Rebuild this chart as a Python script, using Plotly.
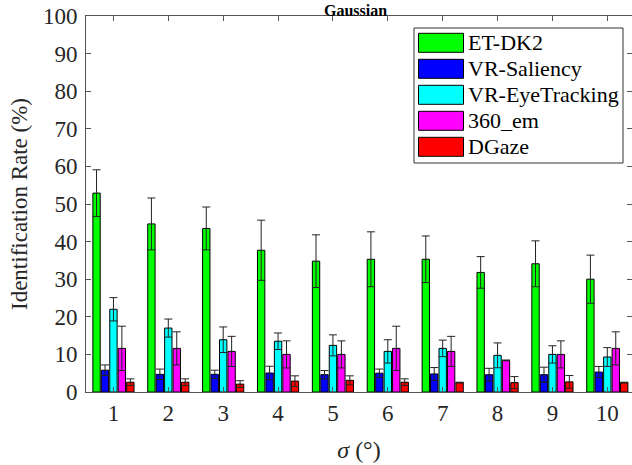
import plotly.graph_objects as go

sigma = [1, 2, 3, 4, 5, 6, 7, 8, 9, 10]
series_names = ["ET-DK2", "VR-Saliency", "VR-EyeTracking", "360_em", "DGaze"]
series_colors = ["#00ff00", "#0000ff", "#00ffff", "#ff00ff", "#ff0000"]

et_dk2 = [52.9, 44.7, 43.5, 37.7, 34.8, 35.3, 35.3, 31.8, 34.1, 30.0]
et_dk2_err = [6.2, 6.9, 5.7, 8.0, 7.0, 7.3, 6.2, 4.2, 6.1, 6.4]
vr_saliency = [5.8, 4.7, 4.7, 5.05, 4.6, 5.0, 4.8, 4.6, 4.6, 5.3]
vr_saliency_err = [1.4, 1.4, 1.1, 1.8, 1.1, 1.1, 1.7, 1.7, 2.0, 1.5]
vr_eyetracking = [22.0, 17.0, 13.9, 13.5, 12.4, 10.8, 11.6, 9.75, 10.0, 9.3]
vr_eyetracking_err = [3.1, 2.4, 3.4, 2.2, 2.8, 3.1, 2.2, 3.3, 2.3, 2.5]
em360 = [11.6, 11.6, 10.8, 10.0, 10.0, 11.6, 10.8, 8.4, 10.0, 11.6]
em360_err = [5.9, 4.4, 4.0, 3.6, 3.6, 5.9, 4.0, 0.1, 3.6, 4.4]
dgaze = [2.6, 2.6, 2.1, 2.9, 3.1, 2.6, 2.5, 2.5, 2.7, 2.5]
dgaze_err = [0.9, 0.9, 0.9, 1.4, 1.2, 0.9, 0.1, 1.6, 1.7, 0.1]

y_ticks = [0, 10, 20, 30, 40, 50, 60, 70, 80, 90, 100]

values = [et_dk2, vr_saliency, vr_eyetracking, em360, dgaze]
errors = [et_dk2_err, vr_saliency_err, vr_eyetracking_err, em360_err, dgaze_err]

FONT = "Liberation Serif"
AX = "#555555"
TXT = "#262626"

W, H = 632, 465
ML, MR, MT, MB = 86, 0, 16, 73
PW, PH = W - ML - MR, H - MT - MB

fig = go.Figure()
for name, color, v, e in zip(series_names, series_colors, values, errors):
    fig.add_trace(go.Bar(
        x=sigma, y=v, name=name,
        marker=dict(color=color, line=dict(color="#000000", width=1)),
        error_y=dict(type="data", array=e, color="#222222", thickness=1, width=4),
        showlegend=False,
    ))

def px2paper(px, py):
    return (px - ML) / PW, (H - MB - py) / PH

shapes = []
annotations = []
# legend box
bx0, by0 = px2paper(414, 28)
bx1, by1 = px2paper(623, 163)
shapes.append(dict(type="rect", xref="paper", yref="paper", x0=bx0, y0=by1, x1=bx1, y1=by0,
                   line=dict(color="#333333", width=1), fillcolor="white", layer="above"))
for i, (name, color) in enumerate(zip(series_names, series_colors)):
    top = 33.3 + i * 26
    sx0, sy0 = px2paper(418.5, top)
    sx1, sy1 = px2paper(463.5, top + 19)
    shapes.append(dict(type="rect", xref="paper", yref="paper", x0=sx0, y0=sy1, x1=sx1, y1=sy0,
                       line=dict(color="#000000", width=1), fillcolor=color, layer="above"))
    tx, ty = px2paper(465.5, top + 9.5)
    annotations.append(dict(text=name, xref="paper", yref="paper", x=tx, y=ty,
                            xanchor="left", yanchor="middle", showarrow=False,
                            font=dict(family=FONT, size=22, color="#000000")))

# title (at the very top of the picture)
tx, ty = px2paper(355, 0)
annotations.append(dict(text="<b>Gaussian</b>", xref="paper", yref="paper", x=tx, y=ty,
                        xanchor="center", yanchor="top", showarrow=False,
                        font=dict(family=FONT, size=16, color="#000000")))

fig.update_layout(
    width=W, height=H,
    margin=dict(l=ML, r=MR, t=MT, b=MB, pad=0, autoexpand=False),
    paper_bgcolor="white", plot_bgcolor="white",
    barmode="group", bargap=0.23, bargroupgap=0.13,
    font=dict(family=FONT, size=23, color=TXT),
    shapes=shapes, annotations=annotations,
    showlegend=False,
)
fig.update_xaxes(
    range=[0.5, 10.45], tickvals=sigma, ticktext=[str(s) for s in sigma],
    ticks="inside", ticklen=5, tickcolor=AX, showline=True, linecolor=AX, linewidth=1,
    mirror="ticks", showgrid=False, zeroline=False, automargin=False,
    title=dict(text="<i>σ</i> (°)", font=dict(family=FONT, size=24, color=TXT), standoff=16),
    tickfont=dict(family=FONT, size=23, color=TXT),
)
fig.update_yaxes(
    range=[0, 100], tickvals=y_ticks,
    ticks="inside", ticklen=5, tickcolor=AX, showline=True, linecolor=AX, linewidth=1,
    mirror="ticks", showgrid=False, zeroline=False, automargin=False,
    title=dict(text="Identification Rate (%)", font=dict(family=FONT, size=23, color=TXT), standoff=8),
    tickfont=dict(family=FONT, size=23, color=TXT),
    ticklabelstandoff=3,
)

fig.write_html("out.html", config={"displayModeBar": False},
               post_script="document.body.style.margin='0';document.body.style.padding='0';")
